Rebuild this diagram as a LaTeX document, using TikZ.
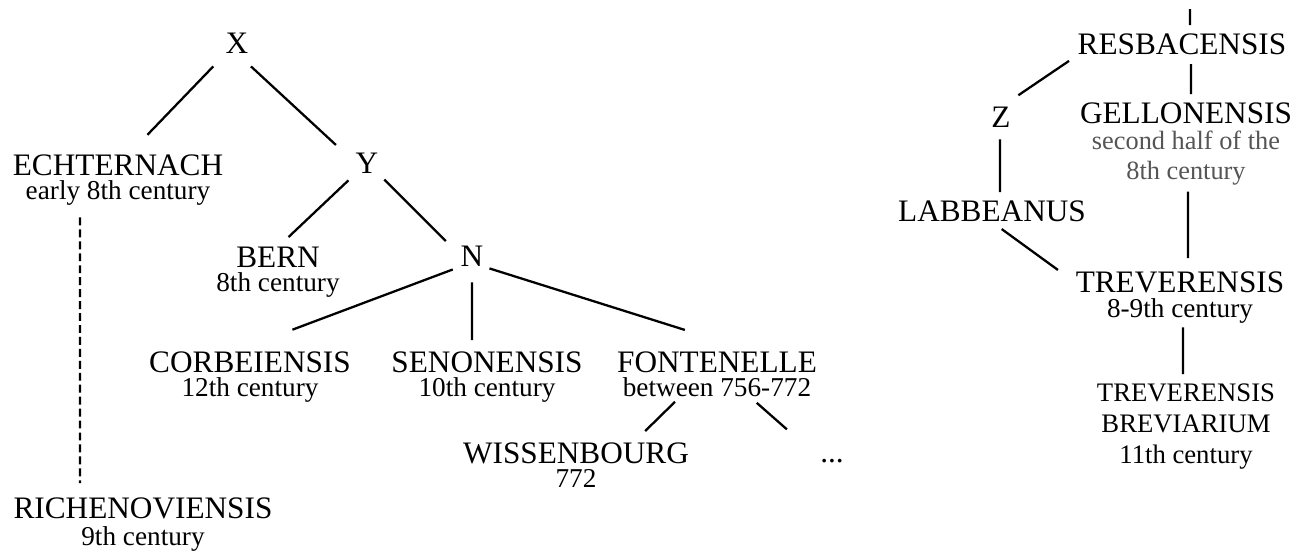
\documentclass[tikz,border=0pt]{standalone}
\usepackage{fontspec}
\setmainfont{Liberation Serif}
\usepackage{tikz}
\definecolor{mygray}{RGB}{85,85,85}
\newcommand{\when}[1]{{\fontsize{15.5}{13.6}\selectfont #1}}
\newcommand{\dated}[1]{{\fontsize{15}{13.6}\selectfont\color{mygray}#1}}
\begin{document}
\begin{tikzpicture}[x=0.02cm,y=-0.02cm,line width=1.3pt,every node/.style={inner sep=0pt,outer sep=0pt,anchor=north,align=center,font=\fontsize{17.8}{13.6}\selectfont}]
\useasboundingbox (0,0) rectangle (1306,552);
\node (X) at (237,33) {X};
\node (ECH) at (118,155) {ECHTERNACH\\\when{early 8th century}};
\node (Y) at (367,153) {Y};
\node (BERN) at (278,247) {BERN\\\when{8th century}};
\node (N) at (472,246) {N};
\node (CORB) at (250,352) {CORBEIENSIS\\\when{12th century}};
\node (SEN) at (487,352) {SENONENSIS\\\when{10th century}};
\node (FONT) at (717,352) {FONTENELLE\\\when{between 756-772}};
\node (WISS) at (576,443) {WISSENBOURG\\\when{772}};
\node[anchor=base] (dots) at (832,462) {...};
\node (RICH) at (143,498) {RICHENOVIENSIS\\[1.7pt]\when{9th century}};
\node (RESB) at (1182,34) {RESBACENSIS};
\node (Z) at (1001,107) {Z};
\node (GELL) at (1186,103) {GELLONENSIS\\[0.8pt]\dated{second half of the}\\[3.5pt]\dated{8th century}};
\node (LABB) at (992,201) {LABBEANUS};
\node (TREV) at (1180,272) {TREVERENSIS\\[0.5pt]\when{8-9th century}};
\node[font=\fontsize{15.2}{17.6}\selectfont] (TREVB) at (1186,384) {TREVERENSIS\\BREVIARIUM\\11th century};
\coordinate (top) at (1190,9);
\draw[shorten <=0.36cm,shorten >=0.56cm] (X.south west) -- ([xshift=0.2cm]ECH.north);
\draw[shorten <=0.38cm,shorten >=0.54cm] (X.south) -- (Y.west);
\draw[shorten <=0.2cm,shorten >=0.29cm] (Y.south west) -- (BERN.north);
\draw[shorten <=0.17cm,shorten >=0.14cm] (Y.south east) -- ([xshift=-0.2cm]N.north west);
\draw[shorten <=0.17cm,shorten >=1.27cm] (N.south west) -- ([xshift=-0.34cm]CORB.north);
\draw[shorten <=0.32cm,shorten >=0.24cm] (N.south) -- ([xshift=-0.3cm]SEN.north);
\draw[shorten <=0.13cm,shorten >=1.47cm] (N.south east) -- ([xshift=0.76cm]FONT.north);
\draw[shorten <=0.14cm,shorten >=0.34cm] ([xshift=-0.74cm]FONT.south) -- ([xshift=1.14cm]WISS.north);
\draw[shorten <=0.18cm,shorten >=0.89cm] ([xshift=0.66cm]FONT.south) -- (dots.north west);
\draw[dash pattern=on 4.5pt off 2.3pt,shorten <=0.24cm,shorten >=0.3cm] ([xshift=-0.76cm]ECH.south) -- ([xshift=-1.26cm]RICH.north);
\draw[shorten >=0.18cm] (top) -- ([xshift=0.16cm]RESB.north);
\draw[shorten <=0.21cm,shorten >=0.42cm] (RESB.south west) -- (Z.north);
\draw[shorten <=0.18cm,shorten >=0.18cm] ([xshift=0.18cm]RESB.south) -- ([xshift=0.1cm]GELL.north);
\draw[shorten <=0.24cm,shorten >=0.18cm] ([xshift=-0.02cm]Z.south) -- ([xshift=0.16cm]LABB.north);
\draw[shorten <=0.24cm,shorten >=0.07cm] (LABB.south) -- ([xshift=-0.3cm]TREV.north west);
\draw[shorten <=0.14cm,shorten >=0.28cm] ([xshift=0.04cm]GELL.south) -- ([xshift=0.16cm]TREV.north);
\draw[shorten <=0.08cm,shorten >=0.2cm] ([xshift=0.06cm]TREV.south) -- ([xshift=-0.06cm]TREVB.north);
\end{tikzpicture}
\end{document}
